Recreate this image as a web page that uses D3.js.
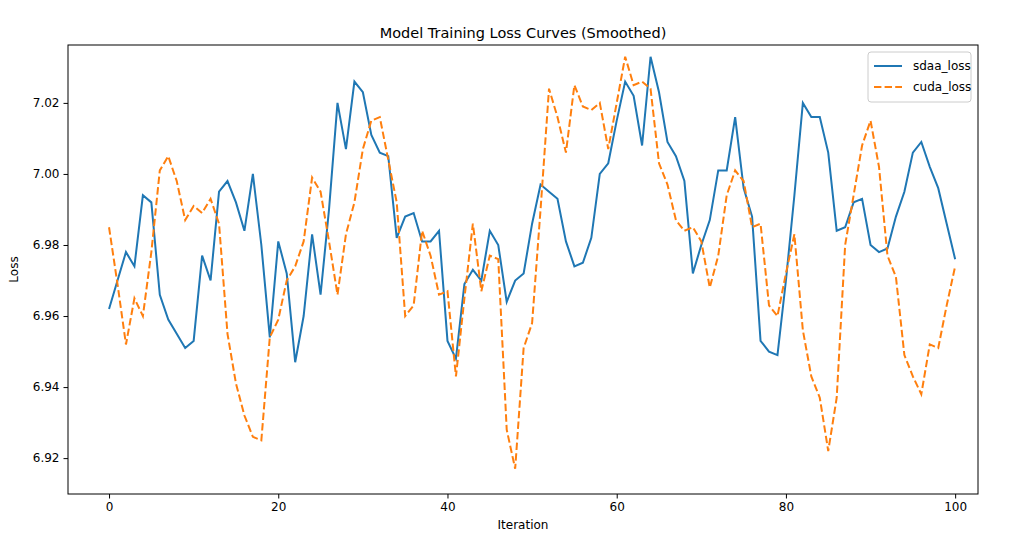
<!DOCTYPE html>
<html><head><meta charset="utf-8">
<script src="https://cdn.jsdelivr.net/npm/d3@7"></script>
<style>body{margin:0;background:#fff}text{font-family:"DejaVu Sans",sans-serif}</style>
</head><body><svg id="c" width="1010" height="543"></svg>
<script>
const sdaa=[6.962,6.970,6.978,6.974,6.994,6.992,6.966,6.959,6.955,6.951,6.953,6.977,6.970,6.995,6.998,6.992,6.984,7.000,6.980,6.954,6.981,6.972,6.947,6.960,6.983,6.966,6.990,7.020,7.007,7.026,7.023,7.011,7.006,7.005,6.982,6.988,6.989,6.981,6.981,6.984,6.953,6.948,6.969,6.973,6.970,6.984,6.980,6.964,6.970,6.972,6.986,6.997,6.995,6.993,6.981,6.974,6.975,6.982,7.000,7.003,7.015,7.026,7.022,7.008,7.033,7.023,7.009,7.005,6.998,6.972,6.980,6.987,7.001,7.001,7.016,6.996,6.988,6.953,6.950,6.949,6.970,6.994,7.020,7.016,7.016,7.006,6.984,6.985,6.992,6.993,6.980,6.978,6.979,6.988,6.995,7.006,7.009,7.002,6.996,6.986,6.976];
const cuda=[6.985,6.969,6.952,6.965,6.960,6.978,7.001,7.005,6.998,6.987,6.991,6.989,6.993,6.986,6.955,6.941,6.932,6.926,6.925,6.954,6.959,6.970,6.974,6.981,6.999,6.995,6.981,6.966,6.983,6.992,7.007,7.015,7.016,7.004,6.992,6.960,6.963,6.984,6.977,6.966,6.967,6.943,6.965,6.986,6.967,6.977,6.976,6.928,6.917,6.951,6.958,6.990,7.024,7.016,7.006,7.025,7.019,7.018,7.020,7.007,7.020,7.033,7.025,7.026,7.024,7.003,6.997,6.987,6.984,6.985,6.981,6.968,6.977,6.994,7.001,6.998,6.985,6.986,6.963,6.960,6.972,6.983,6.956,6.943,6.937,6.922,6.937,6.980,6.994,7.008,7.015,7.002,6.977,6.971,6.949,6.943,6.938,6.952,6.951,6.963,6.974];
const xTicks=[0,20,40,60,80,100];
const yTicks=[6.92,6.94,6.96,6.98,7.00,7.02];
const svg=d3.select("#c");
const L=68,R=978,T=45,B=494;
const x=d3.scaleLinear().domain([-4.85,102.7]).range([L,R]);
const y=d3.scaleLinear().domain([6.9099,7.0363]).range([B,T]);
const g=svg.append("g");
const xa=g.append("g").attr("transform",`translate(0,${B})`).call(d3.axisBottom(x).tickValues(xTicks).tickSize(4.5).tickPadding(4).tickFormat(d3.format("d")));
const ya=g.append("g").attr("transform",`translate(${L},0)`).call(d3.axisLeft(y).tickValues(yTicks).tickSize(4.5).tickPadding(4).tickFormat(d3.format(".2f")));
[xa,ya].forEach(a=>{a.select(".domain").remove();a.selectAll("text").attr("font-size",12).attr("fill","#000");a.selectAll("line").attr("stroke","#000").attr("stroke-width",1);});
const line=d3.line().x((d,i)=>x(i)).y(d=>y(d));
g.append("path").datum(sdaa).attr("d",line).attr("fill","none").attr("stroke","#1f77b4").attr("stroke-width",2);
g.append("path").datum(cuda).attr("d",line).attr("fill","none").attr("stroke","#ff7f0e").attr("stroke-width",2).attr("stroke-dasharray","7.4,3.2");
g.append("rect").attr("x",L).attr("y",T).attr("width",R-L).attr("height",B-T).attr("fill","none").attr("stroke","#000").attr("stroke-width",1);
svg.append("text").attr("x",(L+R)/2).attr("y",T-7).attr("text-anchor","middle").attr("font-size",14.5).text("Model Training Loss Curves (Smoothed)");
svg.append("text").attr("x",(L+R)/2).attr("y",B+35).attr("text-anchor","middle").attr("font-size",12).text("Iteration");
svg.append("text").attr("transform",`translate(${L-50},${(T+B)/2}) rotate(-90)`).attr("text-anchor","middle").attr("font-size",12).text("Loss");
const lg=svg.append("g").attr("transform",`translate(${R-110},${T+7})`);
lg.append("rect").attr("width",103).attr("height",50).attr("rx",3).attr("fill","#fff").attr("fill-opacity",0.8).attr("stroke","#ccc").attr("stroke-width",1);
[["sdaa_loss","#1f77b4",null],["cuda_loss","#ff7f0e","7.4,3.2"]].forEach(([n,c,da],i)=>{
 const yy=14+i*21;
 const l=lg.append("line").attr("x1",6).attr("x2",34).attr("y1",yy).attr("y2",yy).attr("stroke",c).attr("stroke-width",2);
 if(da)l.attr("stroke-dasharray",da);
 lg.append("text").attr("x",45).attr("y",yy+4).attr("font-size",12).text(n);
});
</script></body></html>
